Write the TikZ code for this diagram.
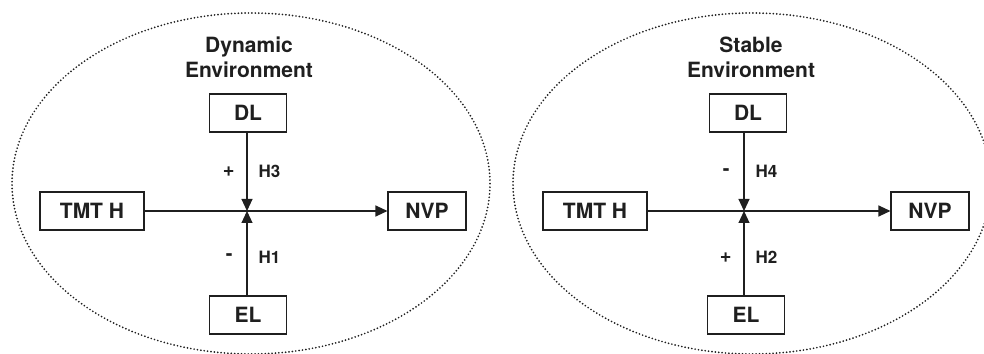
\documentclass[tikz,border=0pt]{standalone}
\usepackage{fontspec}
\setmainfont{TeX Gyre Heros}
\usetikzlibrary{arrows.meta}

\definecolor{inkColor}{gray}{0.12}

\tikzset{
  var/.style={draw=inkColor, text=inkColor, fill=white, line width=1.1pt, minimum height=38pt, inner sep=0pt,
    font=\fontsize{21}{25}\selectfont\bfseries},
  env/.style={draw=inkColor, line width=1.9pt, line cap=round, dash pattern=on 0pt off 3.4pt},
  link/.style={draw=inkColor, line width=1.1pt, -{Triangle[length=12pt,width=11pt]}},
  sign/.style={text=inkColor, inner sep=0pt, font=\fontsize{17}{20}\selectfont\bfseries},
  title/.style={text=inkColor, align=center, inner sep=0pt, font=\fontsize{21}{25}\selectfont\bfseries}
}

\begin{document}
\begin{tikzpicture}[x=1pt,y=1pt]
\path[use as bounding box] (0,0) rectangle (984,353);

% dynamic environment
\draw[env] (251,169.5) ellipse [x radius=239, y radius=170.5];
\node[title] (dynTitle) at (249,296) {Dynamic\\Environment};
\node[var, minimum width=77pt] (dynDL) at (248,240) {DL};
\node[var, minimum width=104pt] (dynTMT) at (92,142) {TMT H};
\node[var, minimum width=78pt] (dynNVP) at (427,142) {NVP};
\node[var, minimum width=77pt] (dynEL) at (248,38) {EL};
\coordinate (dynJ) at (247,142);

\draw[link] (dynTMT.east) -- (dynNVP.west);
\draw[link] (dynDL.south -| dynJ) -- (dynJ)
  node[sign, midway, left=12pt] {\fontsize{20}{20}\selectfont +}
  node[sign, midway, right=11pt] {H3};
\draw[link] (dynEL.north -| dynJ) -- (dynJ)
  node[sign, pos=0.45, left=14pt] {\fontsize{20}{20}\selectfont -}
  node[sign, pos=0.45, right=11pt] {H1};

% stable environment
\draw[env] (752,169.5) ellipse [x radius=239, y radius=170.5];
\node[title] (stbTitle) at (751,296) {Stable\\Environment};
\node[var, minimum width=77pt] (stbDL) at (748,240) {DL};
\node[var, minimum width=104pt] (stbTMT) at (595,142) {TMT H};
\node[var, minimum width=78pt] (stbNVP) at (930,142) {NVP};
\node[var, minimum width=77pt] (stbEL) at (746,38) {EL};
\coordinate (stbJ) at (744,142);

\draw[link] (stbTMT.east) -- (stbNVP.west);
\draw[link] (stbDL.south -| stbJ) -- (stbJ)
  node[sign, midway, left=14pt] {\fontsize{20}{20}\selectfont -}
  node[sign, midway, right=11pt] {H4};
\draw[link] (stbEL.north -| stbJ) -- (stbJ)
  node[sign, pos=0.45, left=12pt] {\fontsize{20}{20}\selectfont +}
  node[sign, pos=0.45, right=11pt] {H2};
\end{tikzpicture}
\end{document}
